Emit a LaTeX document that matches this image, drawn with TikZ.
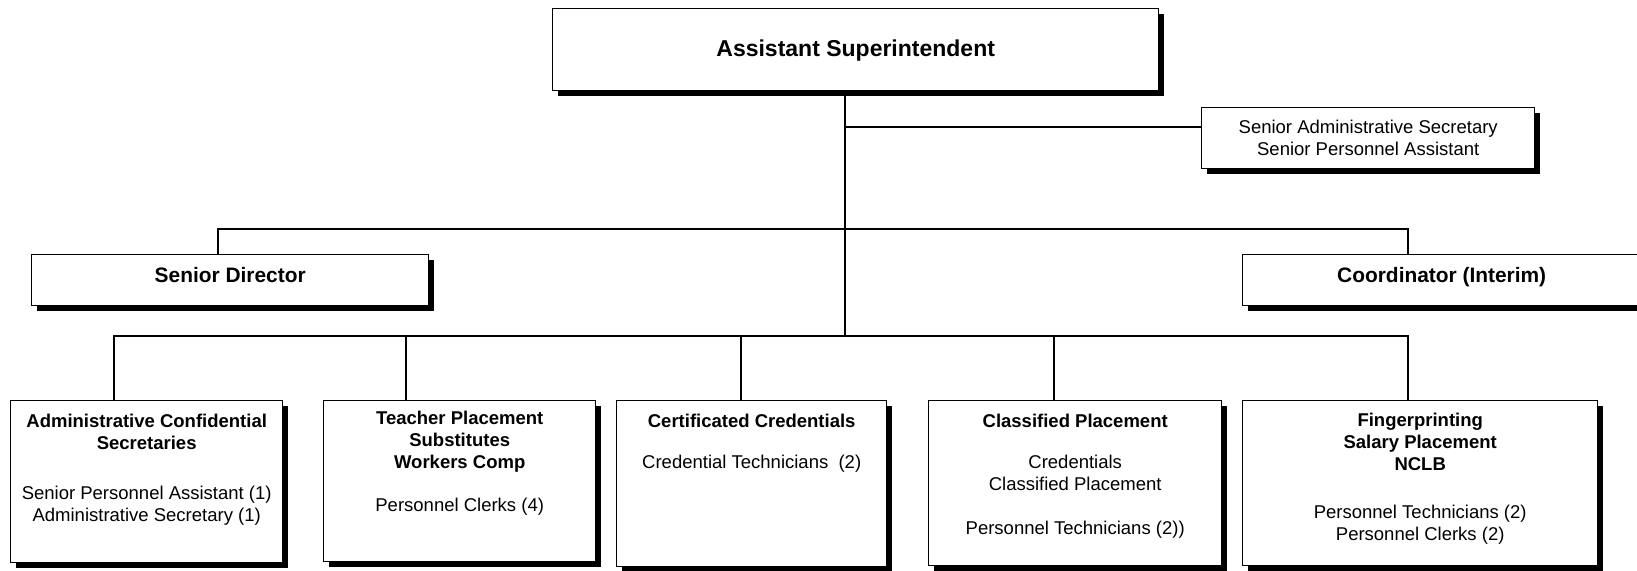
\documentclass[tikz,border=0pt]{standalone}
\usepackage{fontspec}
\setmainfont{Liberation Sans}
\usetikzlibrary{shadows}
\begin{document}
\begin{tikzpicture}[x=0.5pt,y=-0.5pt,
  orgbox/.style={draw=black, line width=0.7pt, fill=white, inner sep=0pt,
    anchor=north west,
    drop shadow={shadow xshift=2.5pt, shadow yshift=-2.5pt, opacity=1, fill=black}},
  link/.style={draw=black, line width=0.7pt},
  titletext/.style={font=\fontsize{11.5}{13.5}\selectfont\bfseries, align=center, inner sep=0pt},
  headtext/.style={font=\fontsize{10.45}{12.5}\selectfont\bfseries, align=center, inner sep=0pt},
  boldtext/.style={font=\fontsize{9.25}{10.9}\selectfont\bfseries, align=center, inner sep=0pt},
  bodytext/.style={font=\fontsize{9.25}{11}\selectfont, align=center, inner sep=0pt}
]
\useasboundingbox (0,0) rectangle (1637,570);
\clip (0,0) rectangle (1637,570);

% boxes (sizes in pt, positions in px-like units)
\node[orgbox, minimum width=303pt,   minimum height=41pt]   (top) at (552,8)    {};
\node[orgbox, minimum width=166.5pt, minimum height=30.5pt] (sec) at (1201,107) {};
\node[orgbox, minimum width=198.5pt, minimum height=25.5pt] (sd)  at (31,254)   {};
\node[orgbox, minimum width=199pt,   minimum height=25.5pt] (co)  at (1242,254) {};
\node[orgbox, minimum width=136pt,   minimum height=81pt]   (b1)  at (10,400)   {};
\node[orgbox, minimum width=136pt,   minimum height=80.5pt] (b2)  at (323,400)  {};
\node[orgbox, minimum width=135pt,   minimum height=83pt]   (b3)  at (616,400)  {};
\node[orgbox, minimum width=146.5pt, minimum height=82.5pt] (b4)  at (928,400)  {};
\node[orgbox, minimum width=177.5pt, minimum height=82.5pt] (b5)  at (1242,400) {};

% texts
\node[titletext] (topT) at (top.center |- 0,51) {Assistant Superintendent};
\node[bodytext]  (secT) at (sec.center) {Senior Administrative Secretary\\Senior Personnel Assistant};
\node[headtext]  (sdT)  at (sd.center |- 0,275) {Senior Director};
\node[headtext]  (coT)  at (co.center |- 0,277) {Coordinator (Interim)};

\node[boldtext] (b1a) at (b1.center |- 0,432) {Administrative Confidential\\Secretaries};
\node[bodytext] (b1b) at (b1.center |- 0,506) {Senior Personnel Assistant (1)\\Administrative Secretary (1)};

\node[boldtext] (b2a) at (b2.center |- 0,442) {Teacher Placement\\Substitutes\\Workers Comp};
\node[bodytext] (b2b) at (b2.center |- 0,507) {Personnel Clerks (4)};

\node[boldtext] (b3a) at (b3.center |- 0,421) {Certificated Credentials};
\node[bodytext] (b3b) at (b3.center |- 0,464) {Credential Technicians~ (2)};

\node[boldtext] (b4a) at (b4.center |- 0,421) {Classified Placement};
\node[bodytext] (b4b) at (b4.center |- 0,473) {Credentials\\Classified Placement};
\node[bodytext] (b4c) at (b4.center |- 0,530) {Personnel Technicians (2))};

\node[boldtext] (b5a) at (b5.center |- 0,442) {Fingerprinting\\Salary Placement\\NCLB};
\node[bodytext] (b5b) at (b5.center |- 0,525) {Personnel Technicians (2)\\Personnel Clerks (2)};

% connector points
\coordinate (trunkTop) at (845,90);
\coordinate (hubMid)   at (845,229);
\coordinate (hubLow)   at (845,336);
\coordinate (secIn)    at (1201,127);
\coordinate (sdIn)     at (218,254);
\coordinate (coIn)     at (1408,254);
\coordinate (b1In)     at (114,400);
\coordinate (b2In)     at (406,400);
\coordinate (b3In)     at (741,400);
\coordinate (b4In)     at (1054,400);
\coordinate (b5In)     at (1408,400);

% connectors
\draw[link] (trunkTop) -- (hubLow);
\draw[link] (trunkTop |- secIn) -- (secIn);
\draw[link] (sdIn) |- (hubMid) -| (coIn);
\draw[link] (hubLow) -| (b1In);
\draw[link] (hubLow) -| (b2In);
\draw[link] (hubLow) -| (b3In);
\draw[link] (hubLow) -| (b4In);
\draw[link] (hubLow) -| (b5In);
\end{tikzpicture}
\end{document}
